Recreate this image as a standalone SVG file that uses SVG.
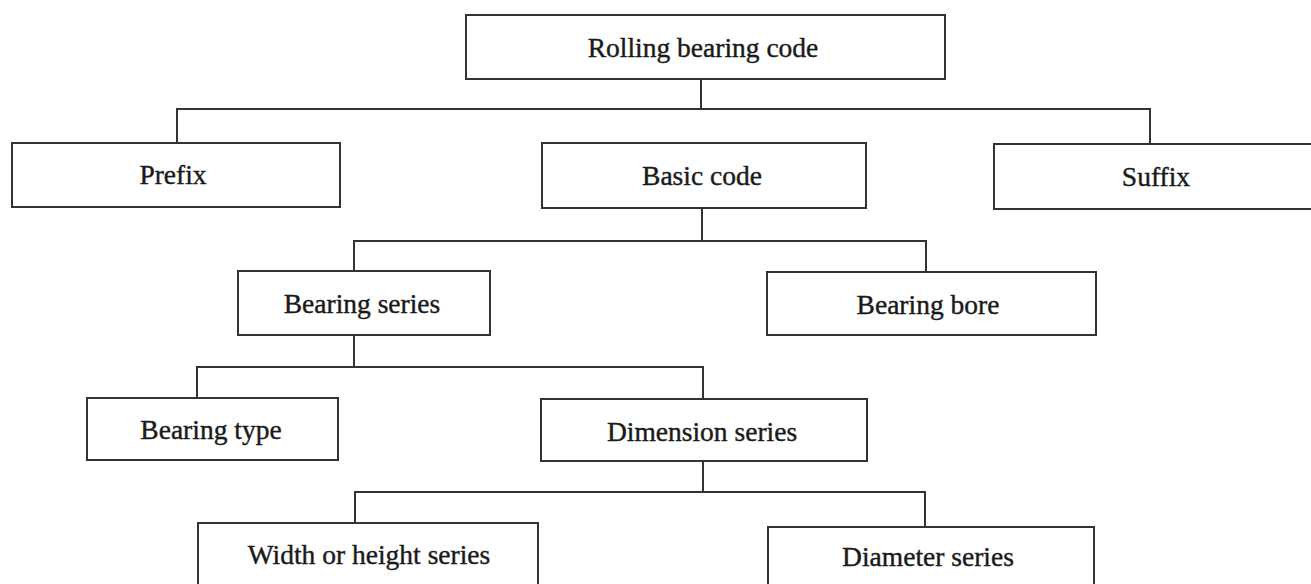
<svg xmlns="http://www.w3.org/2000/svg" width="1311" height="584" viewBox="0 0 1311 584">
<style>
.box{fill:#fff;stroke:#333;stroke-width:2}
.lbl{font-family:"Liberation Serif","Times New Roman",serif;font-size:27.5px;fill:#1a1a1a;stroke:#1a1a1a;stroke-width:0.4;text-anchor:middle}
.con{fill:none;stroke:#333;stroke-width:2}
</style>
<rect width="1311" height="584" fill="#fff"/>
<g id="connectors">
<path class="con" d="M701 79V109M177 143V109H1150V144"/>
<path class="con" d="M702 208V241M354 271V241H926V272"/>
<path class="con" d="M354 335V367M197 398V367H703V399"/>
<path class="con" d="M703 461V492M355 523V492H925V527"/>
</g>
<g id="root"><rect class="box" x="466" y="15" width="479" height="64"/><text class="lbl" x="703" y="57">Rolling bearing code</text></g>
<g id="prefix"><rect class="box" x="12" y="143" width="328" height="64"/><text class="lbl" x="173" y="184">Prefix</text></g>
<g id="basic"><rect class="box" x="542" y="143" width="324" height="65"/><text class="lbl" x="702" y="185">Basic code</text></g>
<g id="suffix"><rect class="box" x="994" y="144" width="330" height="65"/><text class="lbl" x="1156" y="186">Suffix</text></g>
<g id="series"><rect class="box" x="238" y="271" width="252" height="64"/><text class="lbl" x="362" y="313">Bearing series</text></g>
<g id="bore"><rect class="box" x="767" y="272" width="329" height="63"/><text class="lbl" x="928" y="314">Bearing bore</text></g>
<g id="type"><rect class="box" x="87" y="398" width="251" height="62"/><text class="lbl" x="211" y="439">Bearing type</text></g>
<g id="dimension"><rect class="box" x="541" y="399" width="326" height="62"/><text class="lbl" x="702" y="441">Dimension series</text></g>
<g id="width"><rect class="box" x="198" y="523" width="340" height="70"/><text class="lbl" x="369" y="564">Width or height series</text></g>
<g id="diameter"><rect class="box" x="768" y="527" width="326" height="70"/><text class="lbl" x="928" y="566">Diameter series</text></g>
</svg>
